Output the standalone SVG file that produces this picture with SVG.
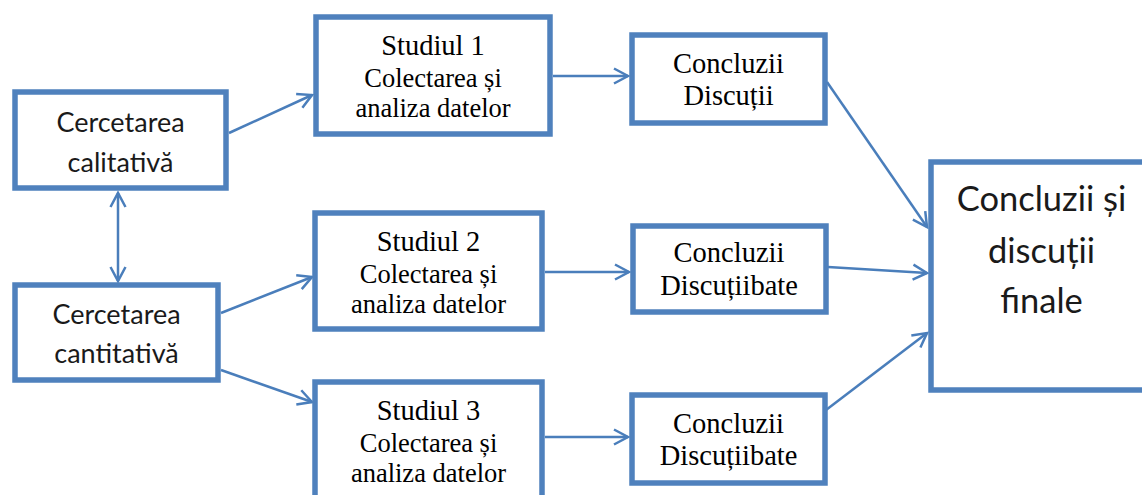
<svg xmlns="http://www.w3.org/2000/svg" width="1142" height="495" viewBox="0 0 1142 495">
  <style>
    .box { fill: #ffffff; stroke: #4f81bd; stroke-width: 5.5; }
    .link { fill: none; stroke: #4a7ebb; stroke-width: 2.5; marker-end: url(#arrow); }
    .sans { font-family: Lato, "Open Sans", "DejaVu Sans", sans-serif; fill: #1a1a1a; text-anchor: middle; }
    .serif { font-family: "Liberation Serif", "Times New Roman", serif; fill: #000000; text-anchor: middle; }
    .t1 { font-size: 28.5px; }
    .t2 { font-size: 26.5px; }
  </style>
  <defs>
    <marker id="arrow" markerUnits="userSpaceOnUse" markerWidth="20" markerHeight="20" viewBox="-16 -10 18 20" refX="0" refY="0" orient="auto-start-reverse">
      <path d="M -14 -7.5 L 0 0 L -14 7.5" fill="none" stroke="#4a7ebb" stroke-width="2.5" stroke-linejoin="miter"/>
    </marker>
  </defs>

  <rect width="1142" height="495" fill="#ffffff"/>

  <!-- connectors -->
  <g id="connectors">
    <line class="link" x1="118" y1="193" x2="118" y2="281" marker-start="url(#arrow)"/>
    <line class="link" x1="229" y1="133" x2="312" y2="95"/>
    <line class="link" x1="221" y1="313" x2="312" y2="277"/>
    <line class="link" x1="221" y1="370" x2="312" y2="402"/>
    <line class="link" x1="553" y1="76" x2="628" y2="76"/>
    <line class="link" x1="545" y1="272" x2="629" y2="272"/>
    <line class="link" x1="545" y1="437" x2="628" y2="437"/>
    <line class="link" x1="827" y1="82" x2="927" y2="227"/>
    <line class="link" x1="828" y1="267" x2="927" y2="273"/>
    <line class="link" x1="826" y1="410" x2="927" y2="333"/>
  </g>

  <!-- left column -->
  <g id="node-calitativa">
    <rect class="box" x="15" y="92" width="211" height="96"/>
    <text class="sans" font-size="27" x="120.5" y="132">Cercetarea</text>
    <text class="sans" font-size="27" x="120.5" y="172">calitativă</text>
  </g>
  <g id="node-cantitativa">
    <rect class="box" x="15" y="285" width="203" height="95"/>
    <text class="sans" font-size="27" x="116.5" y="324">Cercetarea</text>
    <text class="sans" font-size="27" x="116.5" y="363">cantitativă</text>
  </g>

  <!-- studies -->
  <g id="node-studiul1">
    <rect class="box" x="316" y="17" width="234" height="117"/>
    <text class="serif t1" x="433" y="55">Studiul 1</text>
    <text class="serif t2" x="433" y="87">Colectarea și</text>
    <text class="serif t2" x="433" y="117">analiza datelor</text>
  </g>
  <g id="node-studiul2">
    <rect class="box" x="315" y="213" width="227" height="116"/>
    <text class="serif t1" x="428.5" y="251">Studiul 2</text>
    <text class="serif t2" x="428.5" y="283">Colectarea și</text>
    <text class="serif t2" x="428.5" y="313">analiza datelor</text>
  </g>
  <g id="node-studiul3">
    <rect class="box" x="315" y="382" width="227" height="130"/>
    <text class="serif t1" x="428.5" y="420">Studiul 3</text>
    <text class="serif t2" x="428.5" y="452">Colectarea și</text>
    <text class="serif t2" x="428.5" y="482">analiza datelor</text>
  </g>

  <!-- partial conclusions -->
  <g id="node-concluzii1">
    <rect class="box" x="632" y="35" width="193" height="88"/>
    <text class="serif t1" x="728.5" y="73">Concluzii</text>
    <text class="serif t1" x="728.5" y="105">Discuții</text>
  </g>
  <g id="node-concluzii2">
    <rect class="box" x="633" y="226" width="193" height="86"/>
    <text class="serif t1" x="729" y="262">Concluzii</text>
    <text class="serif t1" x="729" y="295">Discuțiibate</text>
  </g>
  <g id="node-concluzii3">
    <rect class="box" x="632" y="395" width="193" height="88"/>
    <text class="serif t1" x="728.5" y="433">Concluzii</text>
    <text class="serif t1" x="728.5" y="465">Discuțiibate</text>
  </g>

  <!-- final conclusions -->
  <g id="node-final">
    <rect class="box" x="931" y="162" width="222" height="228"/>
    <text class="sans" font-size="34.5" x="1041.5" y="211">Concluzii și</text>
    <text class="sans" font-size="34.5" x="1041.5" y="263">discuții</text>
    <text class="sans" font-size="34.5" x="1041.5" y="313">finale</text>
  </g>
</svg>
